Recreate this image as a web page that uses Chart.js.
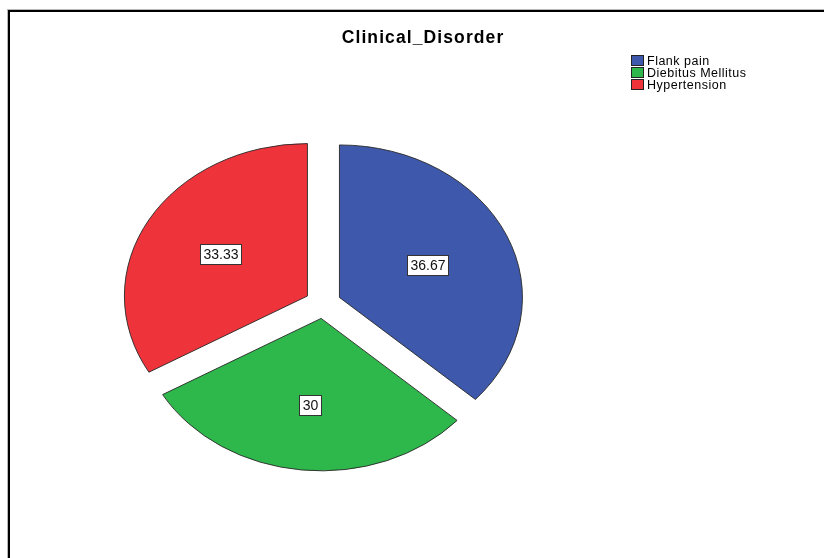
<!DOCTYPE html>
<html>
<head>
<meta charset="utf-8">
<script src="https://cdn.jsdelivr.net/npm/chart.js@4/dist/chart.umd.min.js"></script>
<style>
  html, body { margin: 0; padding: 0; background: #fff; }
  #wrap { width: 824px; height: 558px; position: relative; }
</style>
</head>
<body>
<div id="wrap"><canvas id="c" width="824" height="558"></canvas></div>
<script>
// Chart content
const chartTitle = 'Clinical_Disorder';
const categories = ['Flank pain', 'Diebitus Mellitus', 'Hypertension'];
const percentages = [36.67, 30, 33.33];
const valueLabels = ['36.67', '30', '33.33'];
const sliceColors = ['#3E58AC', '#2EB84B', '#EF333B'];

// Presentation
const TILT = 0.833;      // vertical squash giving the pie its oval look
const EXPLODE = 18;      // distance each slice is pulled out along its bisector
const FONT = '"Liberation Sans", Arial, sans-serif';

function centreOf(meta) {
  const a = meta.data[0];
  return { cx: a.x, cy: a.y };
}

// Draws the slices pulled apart and squashed vertically.
const tiltedPie = {
  id: 'tiltedPie',
  beforeDatasetDraw(chart, args) {
    const ctx = chart.ctx;
    const meta = args.meta;
    const { cx, cy } = centreOf(meta);
    ctx.save();
    ctx.translate(cx, cy);
    ctx.scale(1, TILT);
    ctx.translate(-cx, -cy);
    meta.data.forEach(arc => {
      const mid = (arc.startAngle + arc.endAngle) / 2;
      ctx.save();
      ctx.translate(Math.cos(mid) * EXPLODE, Math.sin(mid) * EXPLODE);
      arc.draw(ctx);
      ctx.restore();
    });
    ctx.restore();
    return false;
  }
};

// Frame, title, legend and boxed value labels.
const decorations = {
  id: 'decorations',
  beforeDraw(chart) {
    const ctx = chart.ctx;
    ctx.save();
    ctx.fillStyle = '#fff';
    ctx.fillRect(0, 0, chart.width, chart.height);
    ctx.strokeStyle = '#b8b8b8';
    ctx.lineWidth = 1;
    ctx.strokeRect(7.5, 9.5, 1000, 1000);
    ctx.strokeStyle = '#000';
    ctx.lineWidth = 2;
    ctx.strokeRect(9, 11, 1000, 1000);
    ctx.restore();
  },
  afterDraw(chart) {
    const ctx = chart.ctx;
    ctx.save();

    // title
    ctx.fillStyle = '#000';
    ctx.font = 'bold 17.5px ' + FONT;
    ctx.letterSpacing = '1.1px';
    ctx.textAlign = 'center';
    ctx.textBaseline = 'alphabetic';
    ctx.fillText(chartTitle, 423, 43);

    // legend
    ctx.font = '12.5px ' + FONT;
    ctx.letterSpacing = '0.5px';
    ctx.textAlign = 'left';
    ctx.textBaseline = 'middle';
    categories.forEach((name, i) => {
      const y = 61 + i * 12;
      ctx.fillStyle = sliceColors[i];
      ctx.fillRect(631.5, y - 5.5, 12, 10);
      ctx.strokeStyle = '#222';
      ctx.lineWidth = 1;
      ctx.strokeRect(631.5, y - 5.5, 12, 10);
      ctx.fillStyle = '#000';
      ctx.fillText(name, 647, y + 0.5);
    });

    // value labels at each slice's centroid
    const meta = chart.getDatasetMeta(0);
    const { cx, cy } = centreOf(meta);
    ctx.font = '14px ' + FONT;
    ctx.letterSpacing = '0px';
    ctx.textAlign = 'center';
    meta.data.forEach((arc, i) => {
      const mid = (arc.startAngle + arc.endAngle) / 2;
      const half = (arc.endAngle - arc.startAngle) / 2;
      const r = EXPLODE + (2 * arc.outerRadius * Math.sin(half)) / (3 * half);
      const px = cx + Math.cos(mid) * r;
      const py = cy + Math.sin(mid) * r * TILT;
      const text = valueLabels[i];
      const w = Math.round(ctx.measureText(text).width) + 6;
      const h = 20;
      const bx = Math.round(px - w / 2) + 0.5;
      const by = Math.round(py - h / 2) + 0.5;
      ctx.fillStyle = '#fff';
      ctx.fillRect(bx, by, w, h);
      ctx.strokeStyle = '#333';
      ctx.lineWidth = 1;
      ctx.strokeRect(bx, by, w, h);
      ctx.fillStyle = '#111';
      ctx.fillText(text, bx + w / 2, by + h / 2 + 1);
    });
    ctx.restore();
  }
};

new Chart(document.getElementById('c'), {
  type: 'pie',
  data: {
    labels: categories,
    datasets: [{
      data: percentages,
      backgroundColor: sliceColors,
      borderColor: '#2a2a2a',
      borderWidth: 1,
      borderJoinStyle: 'miter'
    }]
  },
  options: {
    responsive: false,
    animation: false,
    events: [],
    radius: 183,
    layout: { padding: { left: 0, right: 178, top: 49, bottom: 0 } },
    plugins: {
      legend: { display: false },
      title: { display: false },
      tooltip: { enabled: false }
    }
  },
  plugins: [tiltedPie, decorations]
});
</script>
</body>
</html>
